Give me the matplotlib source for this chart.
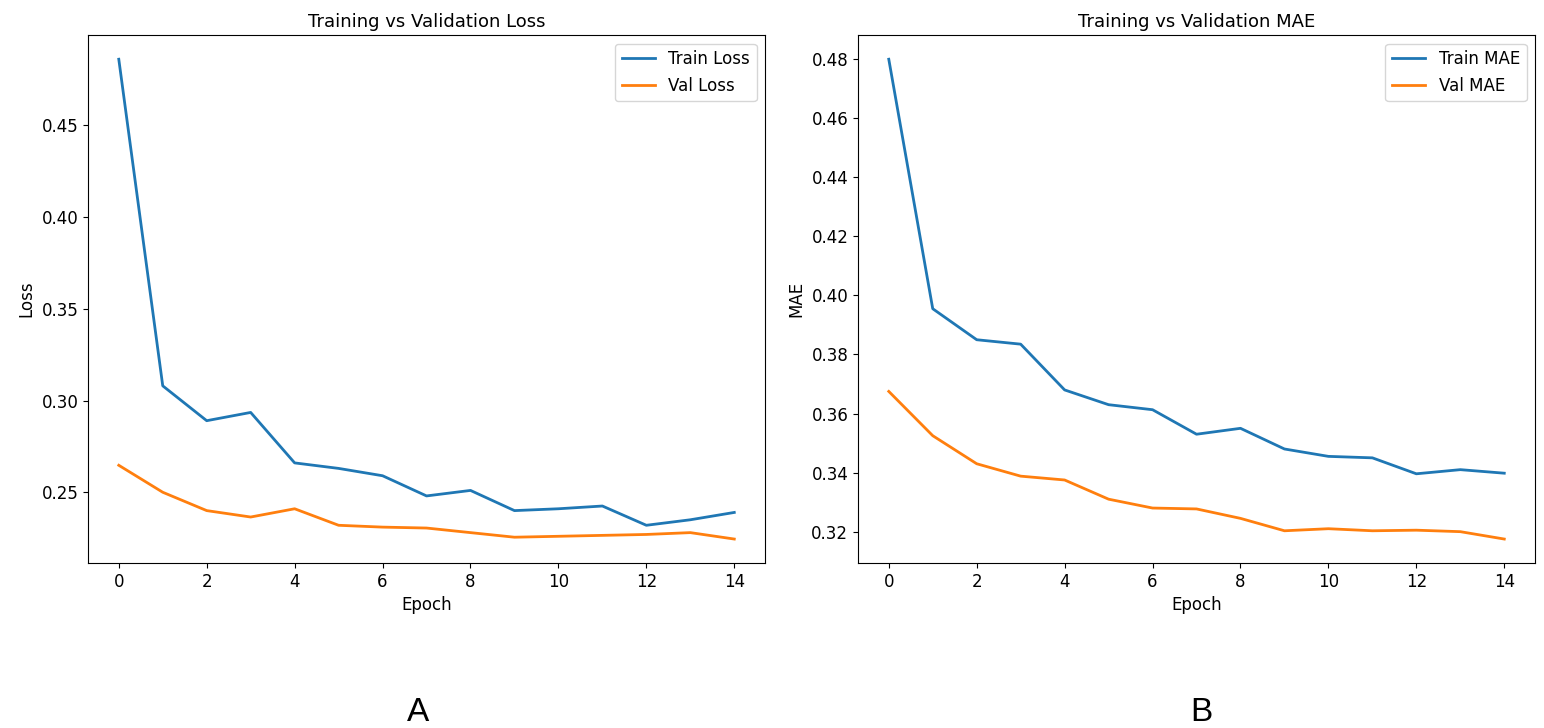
import matplotlib
matplotlib.use("Agg")
import matplotlib.pyplot as plt

epochs = list(range(15))
train_loss = [0.486, 0.308, 0.289, 0.2935, 0.266, 0.263, 0.259, 0.248, 0.251, 0.240, 0.241, 0.2425, 0.232, 0.235, 0.239]
val_loss = [0.2647, 0.250, 0.240, 0.2365, 0.241, 0.232, 0.231, 0.2305, 0.228, 0.2255, 0.226, 0.2265, 0.227, 0.228, 0.2245]
train_mae = [0.480, 0.3955, 0.385, 0.3835, 0.368, 0.363, 0.3613, 0.353, 0.355, 0.348, 0.3455, 0.345, 0.3396, 0.341, 0.3398]
val_mae = [0.3675, 0.3525, 0.343, 0.3388, 0.3375, 0.331, 0.328, 0.3277, 0.3245, 0.3203, 0.321, 0.3203, 0.3205, 0.320, 0.3175]

fig = plt.figure(figsize=(15.44, 7.28), dpi=100)
ax1 = fig.add_axes([0.057, 0.2266, 0.4385, 0.725])
ax2 = fig.add_axes([0.5557, 0.2266, 0.4385, 0.725])

ax1.plot(epochs, train_loss, label="Train Loss", lw=2)
ax1.plot(epochs, val_loss, label="Val Loss", lw=2)
ax1.set_title("Training vs Validation Loss", fontsize=13)
ax1.set_xlabel("Epoch", fontsize=12)
ax1.set_ylabel("Loss", fontsize=12)
ax1.set_xticks(range(0, 15, 2))
ax1.legend(fontsize=12)

ax2.plot(epochs, train_mae, label="Train MAE", lw=2)
ax2.plot(epochs, val_mae, label="Val MAE", lw=2)
ax2.set_title("Training vs Validation MAE", fontsize=13)
ax2.set_xlabel("Epoch", fontsize=12)
ax2.set_ylabel("MAE", fontsize=12)
ax2.set_xticks(range(0, 15, 2))
ax2.legend(fontsize=12)

for ax in (ax1, ax2):
    ax.tick_params(labelsize=12)

fig.text(0.271, 0.01, "A", fontsize=24, family="Liberation Sans", ha="center")
fig.text(0.778, 0.01, "B", fontsize=24, family="Liberation Sans", ha="center")

fig.savefig("out.png")
